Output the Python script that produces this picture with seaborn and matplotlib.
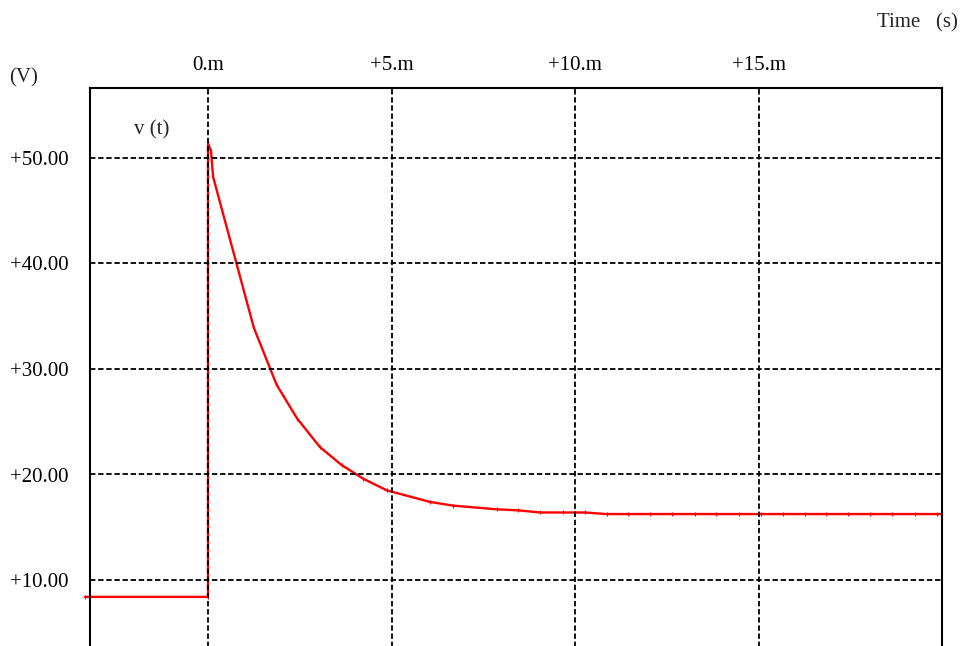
import matplotlib
matplotlib.use("Agg")
import matplotlib.pyplot as plt
import seaborn as sns
import pandas as pd

# ---- data (time in ms, voltage in V) ----
time_ms = [-3.35, 0.0, 0.0, 0.08, 0.14, 1.25, 1.87, 2.43, 3.05, 3.64, 4.23, 4.87,
           6.05, 6.68, 7.87, 8.46, 9.05, 9.68, 10.27, 10.86, 11.44, 12.04, 12.64,
           13.27, 13.84, 14.47, 15.07, 15.67, 16.27, 16.84, 17.44, 18.04, 18.64,
           19.26, 19.86, 20.0]
volts = [8.4, 8.4, 51.4, 50.7, 48.2, 33.9, 28.5, 25.3, 22.6, 20.9, 19.6, 18.5,
         17.4, 17.05, 16.7, 16.6, 16.4, 16.4, 16.4, 16.25, 16.25, 16.25, 16.25,
         16.25, 16.25, 16.25, 16.25, 16.25, 16.25, 16.25, 16.25, 16.25, 16.25,
         16.25, 16.25, 16.25]
x_ticks = [0, 5, 10, 15]
x_tick_labels = ["0.m", "+5.m", "+10.m", "+15.m"]
y_ticks = [10, 20, 30, 40, 50]
y_tick_labels = ["+10.00", "+20.00", "+30.00", "+40.00", "+50.00"]
series_name = "v (t)"

df = pd.DataFrame({"t": time_ms, "v": volts})

sns.set_theme(style="white")
plt.rcParams["font.family"] = ["Liberation Serif", "DejaVu Serif"]

W, H = 963, 646
fig = plt.figure(figsize=(W / 100, H / 100), dpi=100)
ax_l, ax_r, ax_t, ax_b = 90, 942, 88, 648
ax = fig.add_axes([ax_l / W, 1 - ax_b / H, (ax_r - ax_l) / W, (ax_b - ax_t) / H])

sns.lineplot(data=df, x="t", y="v", sort=False, estimator=None, ax=ax,
             color="#ff0000", linewidth=1.7, marker="|", markersize=3,
             markeredgewidth=0.8, markeredgecolor="#ff0000")
for ln in ax.lines:
    ln.set_clip_on(False)
    ln.set_zorder(1)

px_per_ms = 36.7
px_per_v = 10.55
ax.set_xlim(-(208 - ax_l) / px_per_ms, (ax_r - 208) / px_per_ms)
ax.set_ylim(10 - (ax_b - 580) / px_per_v, 50 + (158 - ax_t) / px_per_v)

ax.set_xticks(x_ticks)
ax.set_xticklabels(x_tick_labels)
ax.set_yticks(y_ticks)
ax.set_yticklabels(y_tick_labels)
ax.xaxis.tick_top()
ax.tick_params(axis="x", length=0, pad=9.5, labelsize=15, colors="black")
ax.tick_params(axis="y", length=0, pad=15.5, labelsize=15, colors="black")
ax.set_xlabel("")
ax.set_ylabel("")

ax.set_axisbelow(False)
ax.grid(True, color="black", linestyle=(0, (3.0, 1.5)), linewidth=1.3)

for s in ["left", "right", "top"]:
    ax.spines[s].set_color("black")
    ax.spines[s].set_linewidth(1.5)
    ax.spines[s].set_visible(True)
ax.spines["bottom"].set_visible(False)

fig.text(9 / W, 1 - 78 / H, "(V)", fontsize=15, ha="left", va="center")
fig.text(958 / W, 1 - 23 / H, "Time   (s)", fontsize=15, ha="right", va="center")
fig.text(134 / W, 1 - 130 / H, series_name, fontsize=15, ha="left", va="center")

fig.savefig("out.png", dpi=100)
